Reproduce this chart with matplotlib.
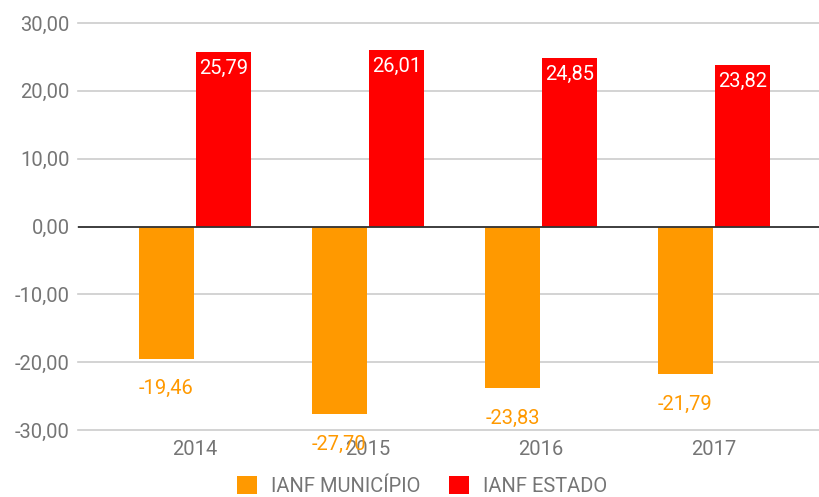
import matplotlib
matplotlib.use("Agg")
import matplotlib.pyplot as plt
import numpy as np

plt.rcParams['font.family'] = ['Roboto', 'DejaVu Sans']

years = ["2014", "2015", "2016", "2017"]
municipio = [-19.46, -27.70, -23.83, -21.79]
estado = [25.79, 26.01, 24.85, 23.82]
yticks = [-30, -20, -10, 0, 10, 20, 30]

def fmt(v):
    return f"{v:.2f}".replace(".", ",")

c_orange = "#FF9900"
c_red = "#FF0000"

fig = plt.figure(figsize=(8.2, 4.97), dpi=100)
ax = fig.add_axes([78/820, 1-430/497, 1-78/820, 407/497])

x = np.arange(len(years))
w = 0.318
b1 = ax.bar(x - w/2 - 0.006, municipio, w, color=c_orange, label="IANF MUNICÍPIO", zorder=3)
b2 = ax.bar(x + w/2 + 0.006, estado, w, color=c_red, label="IANF ESTADO", zorder=3)

for rect, v in zip(b2, estado):
    ax.annotate(fmt(v), (rect.get_x() + rect.get_width()/2, v), xytext=(0, -5),
                textcoords="offset points", ha="center", va="top",
                color="white", fontsize=14.5, zorder=4)
for rect, v in zip(b1, municipio):
    ax.annotate(fmt(v), (rect.get_x() + rect.get_width()/2, v), xytext=(0, -15),
                textcoords="offset points", ha="center", va="top",
                color=c_orange, fontsize=14.5, zorder=4)

ax.set_ylim(-30, 30)
ax.set_xlim(-0.676, 3.613)
ax.set_yticks(yticks)
ax.set_yticklabels([fmt(v) for v in yticks])
ax.set_xticks(x)
ax.set_xticklabels(years)
ax.tick_params(axis="both", length=0, colors="#757575", labelsize=14.5)
ax.tick_params(axis="x", pad=7)
ax.tick_params(axis="y", pad=6)
for s in ax.spines.values():
    s.set_visible(False)
ax.yaxis.grid(True, color="#CCCCCC", linewidth=1.2, zorder=0)
for gl in ax.get_ygridlines():
    gl.set_clip_on(False)
ax.axhline(0, color="#333333", linewidth=1.3, zorder=5)

leg = fig.legend(loc="lower center", bbox_to_anchor=(0.515, -0.035), ncol=2, frameon=False,
                 fontsize=14.5, handlelength=1.0, handleheight=1.0, columnspacing=1.4,
                 handletextpad=0.7)
for t in leg.get_texts():
    t.set_color("#757575")

fig.savefig("out.png", dpi=100)
